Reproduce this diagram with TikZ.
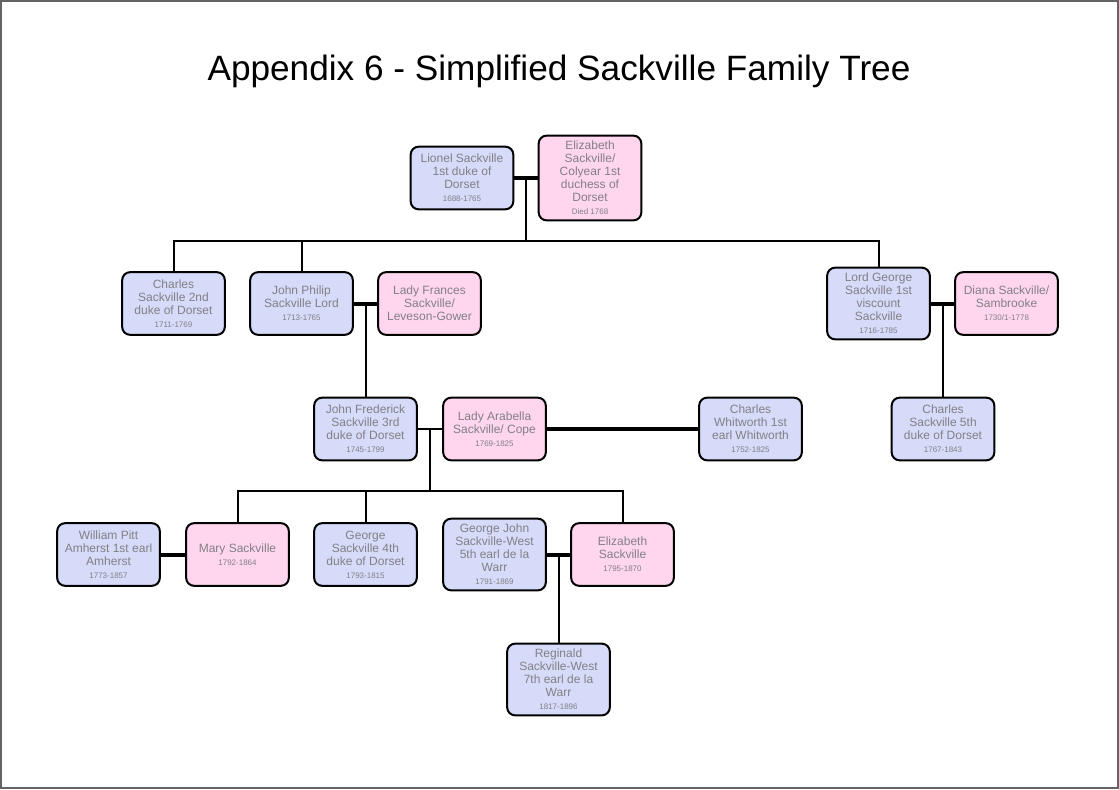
\documentclass[tikz,border=0pt]{standalone}
\usepackage{fontspec}
\setmainfont{Liberation Sans}
\usepackage{tikz}
\usetikzlibrary{calc}
\definecolor{maleblue}{RGB}{214,219,250}
\definecolor{femalepink}{RGB}{255,214,238}
\definecolor{namegray}{RGB}{128,128,132}
\definecolor{framegray}{RGB}{100,100,100}
\newcommand{\lifespan}[1]{\\{\fontsize{6}{7}\selectfont #1}}

\begin{document}
\begin{tikzpicture}[x=0.75pt,y=-0.75pt,
  person/.style={draw,line width=1.5pt,rounded corners=6pt,minimum width=77pt,minimum height=47pt,
    inner sep=4pt,align=center,text=namegray,font=\fontsize{9}{9.8}\selectfont},
  male/.style={person,fill=maleblue},
  female/.style={person,fill=femalepink},
  marriage/.style={line width=3pt},
  descent/.style={line width=1.5pt}]
\useasboundingbox (0,0) rectangle (1119,789);
\draw[framegray,line width=1.5pt] (1,1) rectangle (1118,788);
\node[anchor=base,font=\fontsize{26.4}{30}\selectfont] (title) at (559,80) {Appendix 6 - Simplified Sackville Family Tree};

\node[male] (lionel) at (462,178) {Lionel Sackville\\1st duke of\\Dorset\lifespan{1688-1765}};
\node[female] (colyear) at (590,178) {Elizabeth\\Sackville/\\Colyear 1st\\duchess of\\Dorset\lifespan{Died 1768}};
\node[male] (charles2) at (173.5,303.5) {Charles\\Sackville 2nd\\duke of Dorset\lifespan{1711-1769}};
\node[male] (johnphilip) at (301.5,303.5) {John Philip\\Sackville Lord\lifespan{1713-1765}};
\node[female] (frances) at (429.5,303.5) {Lady Frances\\Sackville/\\Leveson-Gower};
\node[male] (lordgeorge) at (878.5,303.5) {Lord George\\Sackville 1st\\viscount\\Sackville\lifespan{1716-1785}};
\node[female] (diana) at (1006.5,303.5) {Diana Sackville/\\Sambrooke\lifespan{1730/1-1778}};
\node[male] (johnfred) at (365.5,429) {John Frederick\\Sackville 3rd\\duke of Dorset\lifespan{1745-1799}};
\node[female] (arabella) at (494.5,429) {Lady Arabella\\Sackville/ Cope\lifespan{1769-1825}};
\node[male] (whitworth) at (750.5,429) {Charles\\Whitworth 1st\\earl Whitworth\lifespan{1752-1825}};
\node[male] (charles5) at (943,429) {Charles\\Sackville 5th\\duke of Dorset\lifespan{1767-1843}};
\node[male] (amherst) at (108.5,554.5) {William Pitt\\Amherst 1st earl\\Amherst\lifespan{1773-1857}};
\node[female] (mary) at (237.5,554.5) {Mary Sackville\lifespan{1792-1864}};
\node[male] (george4) at (365.5,554.5) {George\\Sackville 4th\\duke of Dorset\lifespan{1793-1815}};
\node[male] (georgejohn) at (494.5,554.5) {George John\\Sackville-West\\5th earl de la\\Warr\lifespan{1791-1869}};
\node[female] (elizabeth) at (622.5,554.5) {Elizabeth\\Sackville\lifespan{1795-1870}};
\node[male] (reginald) at (558.5,679.5) {Reginald\\Sackville-West\\7th earl de la\\Warr\lifespan{1817-1896}};

\coordinate (m1) at ($(lionel.east)!0.5!(colyear.west)$);
\coordinate (b1) at (m1 |- 0,241);
\coordinate (m2) at ($(johnphilip.east)!0.5!(frances.west)$);
\coordinate (m3) at ($(lordgeorge.east)!0.5!(diana.west)$);
\coordinate (m4) at ($(johnfred.east)!0.5!(arabella.west)$);
\coordinate (b4) at (m4 |- 0,491);
\coordinate (m5) at ($(georgejohn.east)!0.5!(elizabeth.west)$);

\draw[marriage] (lionel.east) -- (colyear.west);
\draw[descent] (m1) -- (b1);
\draw[descent] (charles2.north) |- (b1);
\draw[descent] (johnphilip.north) |- (b1);
\draw[descent] (lordgeorge.north) |- (b1);
\draw[marriage] (johnphilip.east) -- (frances.west);
\draw[descent] (m2) -- (m2 |- johnfred.north);
\draw[marriage] (lordgeorge.east) -- (diana.west);
\draw[descent] (m3) -- (m3 |- charles5.north);
\draw[descent] (johnfred.east) -- (arabella.west);
\draw[marriage] (arabella.east) -- (whitworth.west);
\draw[descent] (m4) -- (b4);
\draw[descent] (mary.north) |- (b4);
\draw[descent] (george4.north) |- (b4);
\draw[descent] (elizabeth.north) |- (b4);
\draw[marriage] (amherst.east) -- (mary.west);
\draw[marriage] (georgejohn.east) -- (elizabeth.west);
\draw[descent] (m5) -- (m5 |- reginald.north);
\end{tikzpicture}
\end{document}
